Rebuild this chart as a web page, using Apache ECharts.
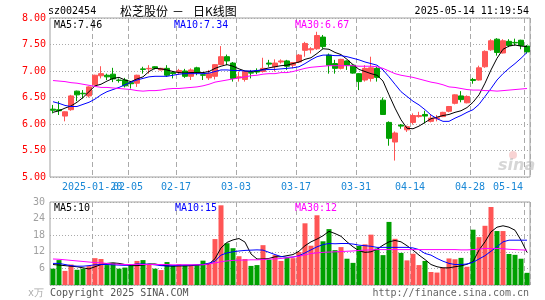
<!DOCTYPE html>
<html><head><meta charset="utf-8">
<script src="https://cdn.jsdelivr.net/npm/echarts/dist/echarts.min.js"></script>
<style>html,body{margin:0;padding:0;background:#fff}#c{width:545px;height:300px}</style>
</head><body><div id="c"></div>
<script>
const dates = ['2025-01-09','2025-01-10','2025-01-13','2025-01-14','2025-01-15','2025-01-16','2025-01-17','2025-01-20','2025-01-21','2025-01-22','2025-01-23','2025-01-24','2025-01-27','2025-02-05','2025-02-06','2025-02-07','2025-02-10','2025-02-11','2025-02-12','2025-02-13','2025-02-14','2025-02-17','2025-02-18','2025-02-19','2025-02-20','2025-02-21','2025-02-24','2025-02-25','2025-02-26','2025-02-27','2025-02-28','2025-03-03','2025-03-04','2025-03-05','2025-03-06','2025-03-07','2025-03-10','2025-03-11','2025-03-12','2025-03-13','2025-03-14','2025-03-17','2025-03-18','2025-03-19','2025-03-20','2025-03-21','2025-03-24','2025-03-25','2025-03-26','2025-03-27','2025-03-28','2025-03-31','2025-04-01','2025-04-02','2025-04-03','2025-04-07','2025-04-08','2025-04-09','2025-04-10','2025-04-11','2025-04-14','2025-04-15','2025-04-16','2025-04-17','2025-04-18','2025-04-21','2025-04-22','2025-04-23','2025-04-24','2025-04-25','2025-04-28','2025-04-29','2025-04-30','2025-05-06','2025-05-07','2025-05-08','2025-05-09','2025-05-12','2025-05-13','2025-05-14'];
const open = [6.28,6.27,6.15,6.27,6.62,6.58,6.53,6.74,6.91,6.92, 6.94,6.83,6.83,6.78,6.77,7.04,7.04,7.08,7.02,7.05, 6.97,6.97,7.00,6.90,7.06,6.93,6.87,6.90,7.12,7.27, 7.15,6.87,6.84,6.97,7.00,6.99,7.15,7.08,7.17,7.19, 7.11,7.17,7.39,7.40,7.42,7.64,7.30,7.14,7.05,7.19, 7.11,6.95,6.83,6.86,7.05,6.45,6.03,5.66,5.98,5.89, 6.03,6.14,6.18,6.05,6.10,6.14,6.24,6.39,6.53,6.40, 6.84,6.83,7.08,7.40,7.60,7.34,7.56,7.54,7.58,7.47];
const close = [6.26,6.25,6.23,6.53,6.55,6.57,6.70,6.92,6.95,6.89, 6.85,6.82,6.72,6.76,6.92,7.03,7.05,7.05,7.05,6.92, 6.95,7.01,6.90,7.02,6.98,6.92,6.95,7.12,7.27,7.19, 6.86,6.89,6.99,6.96,6.98,7.05,7.13,7.15,7.19,7.09, 7.16,7.30,7.52,7.42,7.67,7.46,7.11,7.05,7.22,7.11, 6.96,6.80,7.05,7.06,6.88,6.18,5.73,5.83,5.96,5.95, 6.16,6.16,6.15,6.11,6.12,6.22,6.33,6.55,6.46,6.52, 6.82,7.06,7.37,7.57,7.35,7.57,7.48,7.53,7.48,7.36];
const low = [6.20,6.17,6.05,6.25,6.43,6.48,6.50,6.72,6.86,6.83, 6.79,6.78,6.69,6.67,6.70,6.95,6.95,7.03,7.01,6.89, 6.86,6.93,6.87,6.83,6.92,6.83,6.83,6.84,7.11,7.11, 6.80,6.80,6.80,6.86,6.94,6.97,7.08,6.99,7.14,7.02, 7.05,7.15,7.27,7.33,7.40,7.42,6.95,6.95,7.03,7.02, 6.95,6.64,6.80,6.80,6.80,6.17,5.59,5.31,5.91,5.85, 5.99,6.12,6.01,6.03,6.05,6.13,6.22,6.37,6.41,6.39, 6.76,6.82,7.06,7.38,7.29,7.33,7.45,7.48,7.41,7.33];
const high = [6.36,6.43,6.24,6.55,6.63,6.64,6.71,6.93,7.09,6.95, 7.06,6.86,6.87,6.81,6.93,7.08,7.11,7.09,7.06,7.11, 7.00,7.04,7.04,7.05,7.08,6.95,7.02,7.13,7.47,7.31, 7.17,6.99,7.00,7.02,7.05,7.25,7.21,7.22,7.22,7.21, 7.17,7.32,7.55,7.45,7.74,7.68,7.33,7.21,7.23,7.20, 7.12,6.96,7.11,7.27,7.08,6.50,6.05,5.86,6.00,5.97, 6.20,6.23,6.25,6.17,6.17,6.23,6.34,6.56,6.62,6.54, 6.87,7.10,7.39,7.60,7.62,7.60,7.60,7.61,7.59,7.49];
const ma5 = [6.22,6.25,6.30,6.34,6.41,6.50,6.61,6.72,6.75,6.81, 6.86,6.88,6.83,6.80,6.85,6.89,6.99,7.05,7.04,7.02, 6.99,6.97,6.96,6.97,6.97,6.97,6.99,7.05,7.09,7.12, 7.09,7.04,7.00,6.99,7.00,7.03,7.06,7.08,7.10,7.11, 7.14,7.17,7.22,7.25,7.33,7.42,7.41,7.35,7.31,7.22, 7.12,7.03,6.99,6.95,6.92,6.81,6.55,6.30,6.08,5.92, 5.91,5.96,6.03,6.10,6.13,6.16,6.18,6.22,6.25,6.31, 6.41,6.55,6.77,7.02,7.24,7.41,7.47,7.49,7.47,7.46];
const ma10 = [6.42,6.39,6.35,6.33,6.33,6.37,6.41,6.47,6.55,6.61, 6.65,6.69,6.74,6.79,6.83,6.86,6.89,6.90,6.90,6.90, 6.92,6.94,6.95,6.95,6.95,6.95,6.96,6.99,7.02,7.02, 7.01,7.01,7.00,7.00,7.01,7.02,7.03,7.03,7.04,7.05, 7.06,7.08,7.14,7.21,7.27,7.30,7.30,7.29,7.29,7.27, 7.24,7.21,7.17,7.14,7.11,7.02,6.89,6.75,6.61,6.52, 6.43,6.36,6.27,6.17,6.10,6.05,6.05,6.11,6.16,6.22, 6.27,6.37,6.52,6.67,6.83,6.95,7.05,7.14,7.24,7.35];
const ma30 = [6.82,6.81,6.80,6.78,6.77,6.75,6.73,6.71,6.69,6.69, 6.68,6.67,6.66,6.65,6.63,6.62,6.63,6.63,6.64,6.66, 6.67,6.67,6.68,6.69,6.70,6.72,6.75,6.79,6.81,6.83, 6.85,6.87,6.89,6.91,6.92,6.94,6.95,6.95,6.97,6.97, 6.99,7.02,7.05,7.07,7.08,7.09,7.10,7.10,7.10,7.10, 7.10,7.09,7.09,7.09,7.08,7.05,7.00,6.95,6.92,6.90, 6.88,6.85,6.82,6.79,6.77,6.74,6.70,6.69,6.67,6.65, 6.64,6.64,6.63,6.63,6.62,6.63,6.64,6.65,6.66,6.67];
const volume = [5.9,9.0,5.1,7.4,5.5,5.9,6.8,9.7,9.4,7.2, 8.0,5.9,6.3,7.0,8.7,9.0,7.5,5.9,5.4,8.3, 6.9,7.5,7.2,7.2,7.2,8.8,7.8,16.6,28.8,15.1, 13.3,10.4,9.4,6.9,7.2,14.4,9.2,10.8,8.7,9.8, 9.7,11.9,22.3,14.2,25.2,15.8,20.2,12.6,13.7,9.5, 8.0,14.1,14.7,18.2,13.2,10.8,22.8,16.7,11.6,8.9, 11.3,7.2,8.7,4.7,4.5,6.3,9.6,9.3,9.8,6.6, 20.0,17.3,21.4,28.2,19.5,19.5,11.2,10.9,9.5,4.4];
const volMa5 = [7.4,7.2,7.0,6.8,6.6,6.2,5.8,6.6,7.4,7.8, 8.0,7.8,7.4,7.0,7.0,7.2,7.6,7.6,7.2,6.9, 6.8,6.9,6.9,7.0,7.2,7.4,7.6,9.5,13.4,15.4, 16.3,16.8,15.5,11.2,9.4,9.4,9.6,10.2,10.2,10.6, 11.0,12.2,14.2,15.6,16.6,17.8,19.4,18.6,17.6,15.6, 13.8,12.4,11.8,12.0,12.9,14.4,15.6,16.1,15.6,14.2, 12.6,10.8,9.2,7.4,6.6,6.2,6.2,6.6,6.9,7.5, 8.4,12.6,15.6,19.2,20.9,21.4,20.9,19.8,16.2,11.8];
const volMa10 = [7.8,7.8,7.4,7.0,6.8,6.8,7.0,7.3,7.4,7.4, 7.3,7.2,7.1,7.3,7.6,7.6,7.5,7.3,7.0,6.9, 7.0,7.1,7.2,7.2,7.3,7.4,7.9,8.6,10.8,11.6, 12.0,12.3,12.5,12.6,12.7,12.6,11.8,11.0,10.3,10.0, 10.1,10.6,11.6,12.7,13.8,14.6,15.0,14.9,15.0,15.0, 14.8,14.4,14.2,14.0,13.6,13.6,13.6,13.6,13.6,13.6, 13.4,12.8,11.4,10.8,9.6,8.6,7.8,7.4,7.4,7.6, 8.2,9.4,10.6,12.2,13.8,15.6,16.2,16.2,16.2,16.2];
const volMa30 = [9.4,9.3,9.1,8.9,8.7,8.5,8.3,8.1,8.0,7.8, 7.6,7.5,7.4,7.4,7.4,7.4,7.4,7.4,7.4,7.4, 7.3,7.3,7.3,7.3,7.3,7.3,7.6,8.0,8.4,8.7, 8.9,9.0,9.0,9.1,9.1,9.2,9.4,9.4,9.6,9.8, 10.1,10.4,10.9,11.4,11.6,11.8,11.9,12.0,12.1,12.2, 12.3,12.5,12.6,12.7,12.8,12.8,12.8,12.8,12.8,12.8, 12.8,12.8,12.8,12.8,12.8,12.8,12.8,12.8,12.7,12.7, 12.8,13.0,13.2,13.2,13.2,13.1,12.9,12.8,12.7,12.6];
const gridDates = ['2025-01-20','2025-02-05','2025-02-17','2025-03-03','2025-03-17','2025-03-31','2025-04-14','2025-04-28','2025-05-14'];
const priceTicks = [5.0, 8.0, 0.5];
const volTicks = [0, 30, 6];
const headerCode = 'sz002454';
const headerName = '松芝股份';
const headerKind = '日K线图';
const headerTime = '2025-05-14 11:19:54';
const priceMaText = ['MA5:7.46', 'MA10:7.34', 'MA30:6.67'];
const volMaText = ['MA5:10', 'MA10:15', 'MA30:12'];

const UP = '#ff5555', DOWN = '#00a000';
const MONO = '"DejaVu Sans Mono", "Liberation Mono", monospace';
const chart = echarts.init(document.getElementById('c'), null, {renderer: 'canvas'});
const kData = dates.map((d, i) => [open[i], close[i], low[i], high[i]]);
const volData = volume.map((v, i) => ({value: v, itemStyle: {color: close[i] >= open[i] ? UP : DOWN}}));
const isGrid = (idx) => gridDates.indexOf(dates[idx]) >= 0;
const last = dates.length - 1;
const firstIdx = dates.indexOf(gridDates[0]);
const vSplit = {show: true, interval: (i) => isGrid(i), lineStyle: {color: '#aaa', type: [5, 3], width: 1}};
const hSplit = {show: true, lineStyle: {color: '#aaa', type: [1, 2], width: 1}};
function txt(text, x, y, fill, align, font) {
  return {type: 'text', x: x, y: y, silent: true, z: 100,
    style: {text: text, fill: fill, font: font || ('10px ' + MONO), align: align || 'left', verticalAlign: 'middle', textAlign: align || 'left', textVerticalAlign: 'middle'}};
}
const option = {
  animation: false,
  backgroundColor: '#fff',
  grid: [
    {left: 50, top: 18, width: 480, height: 159, show: true, borderColor: '#a0a0a0', borderWidth: 1, backgroundColor: 'transparent'},
    {left: 50, top: 202, width: 480, height: 83, show: true, borderColor: '#a0a0a0', borderWidth: 1, backgroundColor: 'transparent'}
  ],
  xAxis: [
    {type: 'category', gridIndex: 0, data: dates, boundaryGap: true,
      axisLine: {show: false}, axisTick: {show: false}, splitLine: vSplit,
      axisLabel: {show: true, hideOverlap: false, interval: (i) => isGrid(i) && i !== firstIdx, margin: 5,
        formatter: (v, i) => {
          const t = dates[i].slice(5);
          return i === last ? '{b|' + t + '}' : '{a|' + t + '}';
        },
        rich: {
          a: {color: '#1a88d6', fontFamily: MONO, fontSize: 10, padding: [0, 6, 0, 0]},
          b: {color: '#1a88d6', fontFamily: MONO, fontSize: 10, padding: [0, 38, 0, 0]}
        }}},
    {type: 'category', gridIndex: 1, data: dates, boundaryGap: true,
      axisLine: {show: false}, axisTick: {show: false}, axisLabel: {show: false}, splitLine: vSplit}
  ],
  yAxis: [
    {type: 'value', gridIndex: 0, min: priceTicks[0], max: priceTicks[1], interval: priceTicks[2],
      axisLine: {show: false}, axisTick: {show: false}, splitLine: hSplit,
      axisLabel: {color: '#ff0000', fontFamily: MONO, fontSize: 10, margin: 4, formatter: (v) => v.toFixed(2)}},
    {type: 'value', gridIndex: 1, min: volTicks[0], max: volTicks[1], interval: volTicks[2],
      axisLine: {show: false}, axisTick: {show: false}, splitLine: hSplit,
      axisLabel: {color: '#a0a0a0', fontFamily: MONO, fontSize: 10, margin: 5, formatter: (v) => v === 0 ? '' : String(v)}}
  ],
  series: [
    {type: 'candlestick', xAxisIndex: 0, yAxisIndex: 0, data: kData, barWidth: 5,
      itemStyle: {color: UP, color0: DOWN, borderColor: UP, borderColor0: DOWN, borderWidth: 1}},
    {type: 'line', xAxisIndex: 0, yAxisIndex: 0, data: ma5, symbol: 'none', lineStyle: {color: '#000', width: 1}, z: 5},
    {type: 'line', xAxisIndex: 0, yAxisIndex: 0, data: ma10, symbol: 'none', lineStyle: {color: '#0000ff', width: 1}, z: 5},
    {type: 'line', xAxisIndex: 0, yAxisIndex: 0, data: ma30, symbol: 'none', lineStyle: {color: '#ff00ff', width: 1}, z: 5},
    {type: 'bar', xAxisIndex: 1, yAxisIndex: 1, data: volData, barWidth: 5},
    {type: 'line', xAxisIndex: 1, yAxisIndex: 1, data: volMa5, symbol: 'none', lineStyle: {color: '#000', width: 1}, z: 5},
    {type: 'line', xAxisIndex: 1, yAxisIndex: 1, data: volMa10, symbol: 'none', lineStyle: {color: '#0000ff', width: 1}, z: 5},
    {type: 'line', xAxisIndex: 1, yAxisIndex: 1, data: volMa30, symbol: 'none', lineStyle: {color: '#ff00ff', width: 1}, z: 5}
  ],
  graphic: [
    txt(headerCode, 48, 11, '#000'),
    txt(headerName, 120, 11, '#000', 'left', '12px "Noto Sans CJK SC"'),
    txt('－', 172, 11, '#000', 'left', '12px "Noto Sans CJK SC"'),
    txt(headerKind, 193, 11, '#000', 'left', '12px "Noto Sans CJK SC"'),
    txt(headerTime, 529, 11, '#000', 'right'),
    txt(priceMaText[0], 54, 25, '#000'),
    txt(priceMaText[1], 174, 25, '#0000ff'),
    txt(priceMaText[2], 295, 25, '#ff00ff'),
    txt(volMaText[0], 54, 208, '#000'),
    txt(volMaText[1], 175, 208, '#0000ff'),
    txt(volMaText[2], 295, 208, '#ff00ff'),
    txt('x万', 28, 293, '#aaaaaa'),
    txt('Copyright 2025 SINA.COM', 50, 293, '#555'),
    txt('http://finance.sina.com.cn', 529, 293, '#666', 'right'),
    txt(dates[firstIdx], 62, 187, '#1a88d6', 'left', '10px ' + MONO),
    {type: 'circle', shape: {cx: 513, cy: 155, r: 4}, style: {fill: 'rgba(235,130,130,0.35)'}, silent: true, z: 1},
    txt('sina', 498, 166, 'rgba(180,180,180,0.55)', 'left', 'italic bold 16px "DejaVu Sans"')
  ]
};
chart.setOption(option);
</script>
</body></html>
